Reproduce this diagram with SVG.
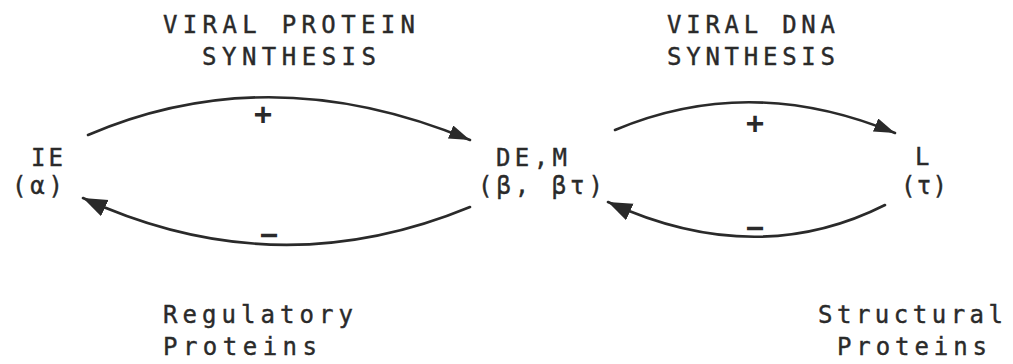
<svg xmlns="http://www.w3.org/2000/svg" width="1013" height="364" viewBox="0 0 1013 364">
  <style>
    .t { font-family: "DejaVu Sans Mono", "Liberation Mono", monospace; font-size: 24px; fill: #2a2a2a; stroke: #2a2a2a; stroke-width: 0.4; }
    .s { font-family: "DejaVu Sans Mono", "Liberation Mono", monospace; font-size: 30px; fill: #2a2a2a; font-weight: bold; }
    .c { fill: none; stroke: #2a2a2a; stroke-width: 2.6; stroke-linecap: round; }
  </style>
  <defs>
    <marker id="ah" markerUnits="userSpaceOnUse" markerWidth="30" markerHeight="30" refX="24" refY="9" orient="auto">
      <path d="M0,0 L24,9 L0,18 Z" fill="#2a2a2a"/>
    </marker>
    <marker id="ahs" markerUnits="userSpaceOnUse" markerWidth="30" markerHeight="30" refX="21" refY="7" orient="auto">
      <path d="M0,0 L21,7 L0,14 Z" fill="#2a2a2a"/>
    </marker>
  </defs>
  <rect width="1013" height="364" fill="#ffffff"/>

  <g id="title-protein">
    <text class="t" x="163" y="33" textLength="252" lengthAdjust="spacing">VIRAL PROTEIN</text>
    <text class="t" x="202" y="65" textLength="174" lengthAdjust="spacing">SYNTHESIS</text>
  </g>
  <g id="title-dna">
    <text class="t" x="667" y="33" textLength="168" lengthAdjust="spacing">VIRAL DNA</text>
    <text class="t" x="667" y="65" textLength="168" lengthAdjust="spacing">SYNTHESIS</text>
  </g>

  <g id="node-ie">
    <text class="t" x="31" y="166" textLength="32" lengthAdjust="spacing">IE</text>
    <text class="t" x="12" y="194" textLength="51" lengthAdjust="spacing">(α)</text>
  </g>
  <g id="node-de">
    <text class="t" x="496" y="166" textLength="71" lengthAdjust="spacing">DE,M</text>
    <text class="t" x="478" y="194" textLength="125" lengthAdjust="spacing">(β,  βτ)</text>
  </g>
  <g id="node-l">
    <text class="t" x="915" y="165" textLength="16" lengthAdjust="spacing">L</text>
    <text class="t" x="901" y="194" textLength="46" lengthAdjust="spacing">(τ)</text>
  </g>

  <g id="connectors">
    <path class="c" d="M88,135 Q270,57 470,140" marker-end="url(#ahs)"/>
    <path class="c" d="M470,207 Q276,287 83,198" marker-end="url(#ah)"/>
    <path class="c" d="M615,130 Q750,73 895,133" marker-end="url(#ahs)"/>
    <path class="c" d="M885,205 Q756,270 608,202" marker-end="url(#ah)"/>
    <text class="s" x="263" y="124" text-anchor="middle">+</text>
    <text class="s" x="269" y="245" text-anchor="middle">−</text>
    <text class="s" x="755" y="133" text-anchor="middle">+</text>
    <text class="s" x="755" y="238" text-anchor="middle">−</text>
  </g>

  <g id="label-regulatory">
    <text class="t" x="163" y="323" textLength="190" lengthAdjust="spacing">Regulatory</text>
    <text class="t" x="163" y="355" textLength="154" lengthAdjust="spacing">Proteins</text>
  </g>
  <g id="label-structural">
    <text class="t" x="818" y="323" textLength="185" lengthAdjust="spacing">Structural</text>
    <text class="t" x="837" y="355" textLength="150" lengthAdjust="spacing">Proteins</text>
  </g>
</svg>
